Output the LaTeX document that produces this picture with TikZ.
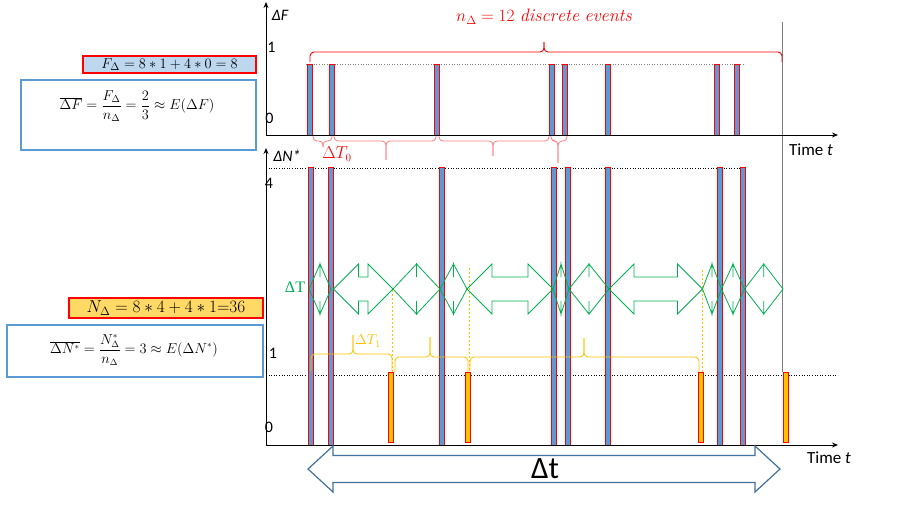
\documentclass[tikz,border=0pt]{standalone}
\usepackage{fontspec}
\setsansfont{Carlito}
\newfontfamily\timesfont{Liberation Serif}
\usetikzlibrary{arrows.meta}

\definecolor{barblue}{HTML}{5B9BD5}
\definecolor{lightblue}{HTML}{BDD7EE}
\definecolor{gold}{HTML}{FFC000}
\definecolor{lightgold}{HTML}{FFD966}
\definecolor{tgreen}{HTML}{00B050}
\definecolor{steel}{HTML}{41719C}
\definecolor{softred}{HTML}{FF7C80}

% brace made of two halves meeting at the tip
\newcommand{\curly}[7][]{%
  \draw[rounded corners=4pt,#1] (#2,#5) -- (#2,#6) -- (#4,#6) -- (#4,#7);
  \draw[rounded corners=4pt,#1] (#3,#5) -- (#3,#6) -- (#4,#6) -- (#4,#7);}

% left-right block arrow, heads shrink when it is short
\newcommand{\blockarrow}[7][]{%
  \pgfmathsetmacro{\hl}{min(#7,(#3-#2)/2)}
  \draw[#1] (#2,#4) -- ({#2+\hl},{#4-#5}) -- ({#2+\hl},{#4-#6}) -- ({#3-\hl},{#4-#6})
    -- ({#3-\hl},{#4-#5}) -- (#3,#4) -- ({#3-\hl},{#4+#5}) -- ({#3-\hl},{#4+#6})
    -- ({#2+\hl},{#4+#6}) -- ({#2+\hl},{#4+#5}) -- cycle;}

\begin{document}
\begin{tikzpicture}[x=1pt,y=-1pt,>={Stealth[length=6pt,width=5pt]},
  evbar/.style={draw=red, fill=barblue, line width=0.9pt},
  zerobar/.style={draw=red, fill=gold, line width=0.9pt},
  sumbox/.style={draw=red, line width=1.2pt, inner sep=0pt},
  avgbox/.style={draw=barblue, line width=2pt, inner sep=0pt},
  ticklbl/.style={font=\sffamily\fontsize{16}{18}\selectfont, inner sep=0pt},
  timelbl/.style={font=\sffamily\fontsize{17}{19}\selectfont, inner sep=0pt},
  guide/.style={dotted, line width=0.6pt}]
\useasboundingbox (0,0) rectangle (913,514);

\coordinate (o1) at (266,135);
\coordinate (top1) at (266,2);
\coordinate (end1) at (838,135);
\coordinate (o2) at (266,445);
\coordinate (top2) at (266,148);
\coordinate (end2) at (838,445);

% guide lines
\draw[guide, gray] (306,64) -- (745,64);
\draw[guide] (266,168) -- (745,168);
\draw[guide] (266,375) -- (838,375);
\draw[gray, line width=0.6pt] (782,22) -- (782,372);
\foreach \x/\y in {392/290, 469/268, 702/270}
  \draw[gold, line width=0.5pt, dash pattern=on 2pt off 2pt] (\x,\y) -- (\x,372);

% events, upper chart
\foreach \x in {310,332,437,552,565,607.5,717,737.4}
  \filldraw[evbar] (\x-2.5,64) rectangle (\x+2.5,135);
% events, lower chart
\foreach \x in {310.6,331,441.6,554,567.7,607.5,720,742.8}
  \filldraw[evbar] (\x-2.5,167) rectangle (\x+2.5,445);
\foreach \x in {391.4,468,701.4,785.7}
  \filldraw[zerobar] (\x-2.5,372) rectangle (\x+2.5,442);

% axes
\draw[->, line width=0.9pt] (o1) -- (top1);
\draw[->, line width=0.9pt] (o1) -- (end1);
\draw[->, line width=0.9pt] (o2) -- (top2);
\draw[->, line width=0.9pt] (o2) -- (end2);

% braces
\curly[red, line width=0.9pt]{310}{782}{544}{62}{52}{42}
\curly[softred, line width=0.8pt]{313}{332}{323}{136}{141}{147}
\curly[softred, line width=0.8pt]{334}{436}{386}{136}{141}{160}
\curly[softred, line width=0.8pt]{439}{549}{493}{136}{141}{156}
\curly[softred, line width=0.8pt]{551}{567}{558}{136}{141}{163}
\curly[gold, line width=0.8pt]{311}{392}{353}{371}{354}{335}
\curly[gold, line width=0.8pt]{395}{468}{430}{372}{357}{337}
\curly[gold, line width=0.8pt]{470}{699}{584}{372}{357}{338}

% inter-event times
\foreach \a/\b in {309/331, 333.5/393, 393/440, 440/467, 467/553, 553/569,
                   569/609, 609/702.5, 702.5/721.5, 721.5/744.5, 744.5/783}
  {\blockarrow[tgreen, line width=0.8pt]{\a}{\b}{289}{25}{12}{25}}
\blockarrow[steel, line width=1.2pt]{308}{780}{469}{23}{13.5}{25}

% labels
\node[red, font=\fontsize{18}{21}\selectfont] (nev) at (544,17)
  {$n_{\Delta}=12\ \mathit{discrete\ events}$};
\node[ticklbl, font=\sffamily\itshape\fontsize{16}{18}\selectfont] (dF) at (280,15) {ΔF};
\node[ticklbl] (one1) at (271.5,47) {1};
\node[ticklbl] (zero1) at (269.5,118) {0};
\node[timelbl] (t1) at (811,150) {Time \textit{t}};
\node[ticklbl, font=\sffamily\itshape\fontsize{16}{18}\selectfont] (dN) at (287,156) {ΔN*};
\node[ticklbl] (four) at (269,183) {4};
\node[ticklbl] (one2) at (273,353) {1};
\node[ticklbl] (zero2) at (269,427) {0};
\node[timelbl] (t2) at (829,458) {Time \textit{t}};
\node[red, font=\fontsize{16}{19}\selectfont] (dT0) at (337,154) {$\Delta T_0$};
\node[gold, font=\fontsize{14}{16}\selectfont] (dT1) at (368,341) {$\Delta T_1$};
\node[tgreen, font=\timesfont\fontsize{16}{18}\selectfont] (dT) at (295,287) {ΔT};
\node[font=\sffamily\fontsize{31}{34}\selectfont] (dt) at (545,469) {Δt};

% sums and means
\node[sumbox, fill=lightblue, minimum width=173, minimum height=17] (fsum) at (169.5,64.5)
  {\fontsize{15}{17}\selectfont$F_{\Delta}=8*1+4*0=8$};
\node[avgbox, minimum width=235, minimum height=70] (fbox) at (138.5,115) {};
\node[font=\fontsize{14}{16}\selectfont] (fmean) at (137,106)
  {$\displaystyle\overline{\Delta F}=\frac{F_{\Delta}}{n_{\Delta}}=\frac{2}{3}\approx E(\Delta F)$};
\node[sumbox, fill=lightgold, minimum width=194, minimum height=20] (nsum) at (166,308)
  {\fontsize{16.5}{19}\selectfont$N_{\Delta}=8*4+4*1{=}36$};
\node[avgbox, minimum width=256, minimum height=52] (nbox) at (135,351) {};
\node[font=\fontsize{13.5}{16}\selectfont] (nmean) at (134,350)
  {$\displaystyle\overline{\Delta N^{*}}=\frac{N^{*}_{\Delta}}{n_{\Delta}}=3\approx E(\Delta N^{*})$};
\end{tikzpicture}
\end{document}
